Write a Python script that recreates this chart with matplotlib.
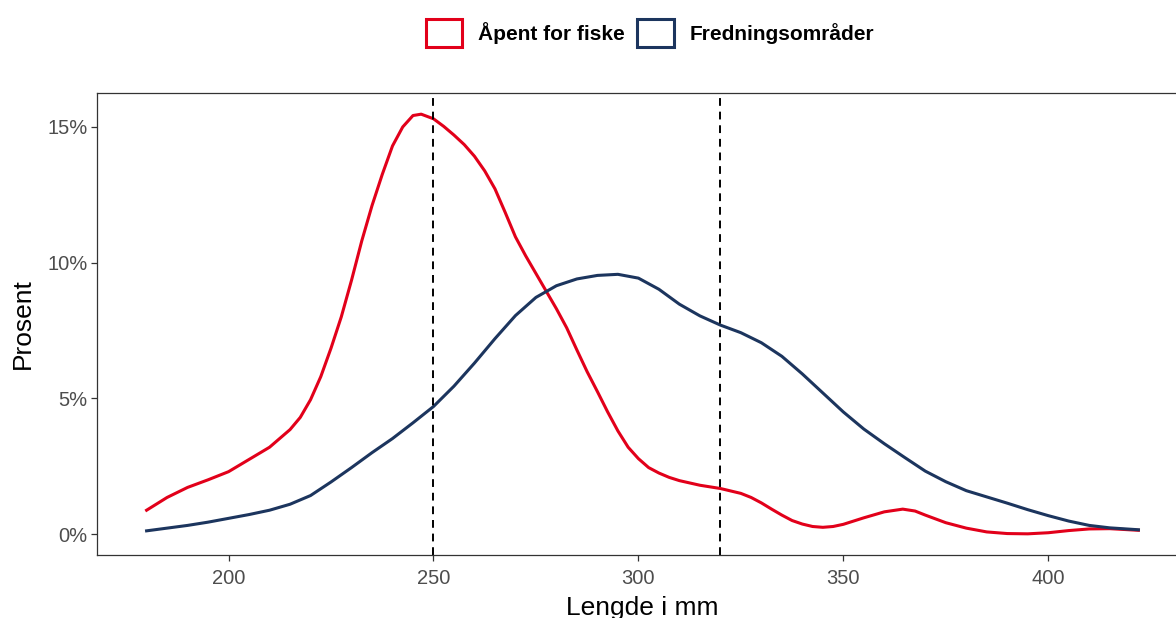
import matplotlib
matplotlib.use("Agg")
import matplotlib.pyplot as plt
from matplotlib.patches import Patch
from matplotlib.ticker import FuncFormatter

plt.rcParams['font.family'] = ['Liberation Sans', 'DejaVu Sans']

# lengths (mm) and share of fish (%)
x_open = [180, 185, 190, 195, 200, 205, 210, 215, 217.5, 220, 222.5, 225, 227.5, 230,
          232.5, 235, 237.5, 240, 242.5, 245, 247, 250, 252.5, 255, 257.5, 260,
          262.5, 265, 267.5, 270, 272.5, 275, 277.5, 280, 282.5, 285, 287.5, 290,
          292.5, 295, 297.5, 300, 302.5, 305, 307.5, 310, 315, 320, 325, 327.5,
          330, 332.5, 335, 337.5, 340, 342.5, 345, 347.5, 350, 355, 360, 364.5, 367.5,
          370, 375, 380, 385, 390, 395, 400, 405, 410, 415, 422]
y_open = [0.88, 1.35, 1.72, 2.0, 2.3, 2.75, 3.2, 3.85, 4.3, 4.95, 5.8, 6.85, 8.0, 9.35,
          10.8, 12.1, 13.25, 14.3, 15.0, 15.42, 15.47, 15.3, 15.02, 14.7, 14.35, 13.92,
          13.38, 12.72, 11.85, 10.95, 10.25, 9.6, 8.95, 8.3, 7.6, 6.78, 5.98, 5.25,
          4.5, 3.8, 3.2, 2.78, 2.45, 2.25, 2.09, 1.97, 1.8, 1.68, 1.5, 1.35,
          1.15, 0.92, 0.7, 0.5, 0.37, 0.28, 0.25, 0.28, 0.36, 0.6, 0.82, 0.92, 0.85,
          0.7, 0.42, 0.22, 0.08, 0.02, 0.01, 0.05, 0.13, 0.19, 0.2, 0.14]

x_closed = [180, 185, 190, 195, 200, 205, 210, 215, 220, 225, 230, 235, 240, 245, 250,
            255, 260, 265, 270, 275, 280, 285, 290, 295, 300, 305, 310, 315, 320,
            325, 330, 335, 340, 345, 350, 355, 360, 365, 370, 375, 380, 385, 390,
            395, 400, 405, 410, 415, 422]
y_closed = [0.12, 0.22, 0.32, 0.44, 0.58, 0.72, 0.88, 1.1, 1.42, 1.92, 2.45, 3.0, 3.52,
            4.1, 4.7, 5.45, 6.3, 7.2, 8.05, 8.72, 9.15, 9.4, 9.53, 9.57, 9.43, 9.02,
            8.47, 8.04, 7.7, 7.42, 7.05, 6.55, 5.9, 5.2, 4.5, 3.87, 3.33, 2.82, 2.32,
            1.93, 1.6, 1.37, 1.14, 0.9, 0.68, 0.48, 0.32, 0.23, 0.16]

labels = ["Åpent for fiske", "Fredningsområder"]
colors = ["#E2001A", "#1C355E"]
limits = [250, 320]

fig = plt.figure(figsize=(11.76, 6.18), dpi=100)
ax = fig.add_axes([97 / 1176, 63 / 618, 1091 / 1176, 462 / 618])

ax.plot(x_open, y_open, color=colors[0], lw=2.2, solid_joinstyle='round')
ax.plot(x_closed, y_closed, color=colors[1], lw=2.2, solid_joinstyle='round')
for lim in limits:
    ax.axvline(lim, color='k', lw=1.4, ls=(0, (4, 3)))

ax.set_xlim(167.9, 434.1)
ax.set_ylim(-0.77, 16.25)
ax.set_xticks([200, 250, 300, 350, 400])
ax.set_yticks([0, 5, 10, 15])
ax.yaxis.set_major_formatter(FuncFormatter(lambda v, p: f"{v:.0f}%"))

for s in ax.spines.values():
    s.set_color('#333333')
    s.set_linewidth(0.9)
ax.tick_params(length=4, width=0.9, color='#333333', labelcolor='#4d4d4d',
               labelsize=14.5)
ax.tick_params(axis='x', pad=6)
ax.tick_params(axis='y', pad=3)

ax.set_xlabel("Lengde i mm", fontsize=19, labelpad=6)
ax.set_ylabel("Prosent", fontsize=19, labelpad=9)

handles = [Patch(facecolor='white', edgecolor=c, linewidth=2.2) for c in colors]
fig.legend(handles, labels, loc='center', bbox_to_anchor=(650 / 1176, 1 - 33 / 618),
           ncol=2, frameon=False, prop={'weight': 'bold', 'size': 15},
           handlelength=1.75, handleheight=1.75, handletextpad=0.75, columnspacing=0.6)

fig.savefig("out.png", dpi=100)
